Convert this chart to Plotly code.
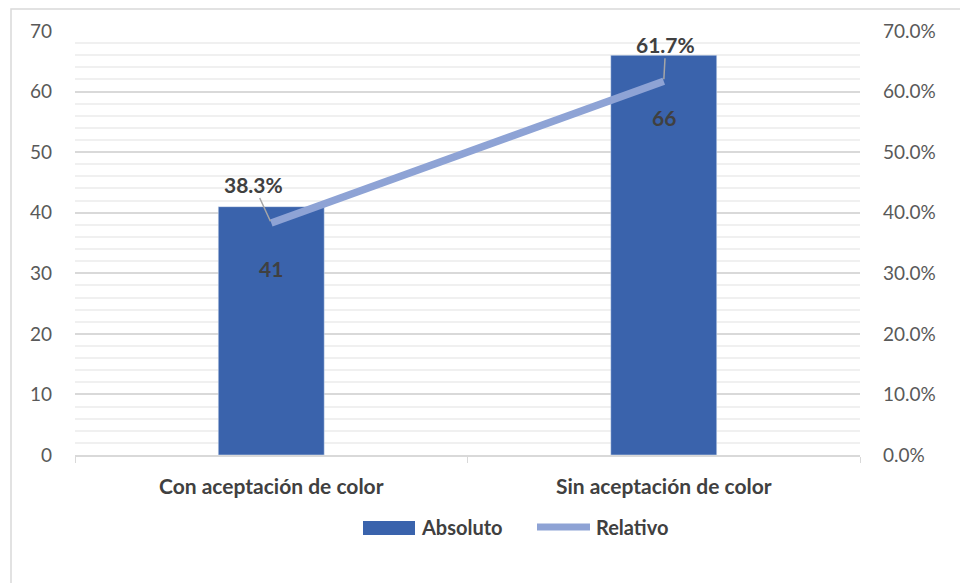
import plotly.graph_objects as go

categories = ["Con aceptación de color", "Sin aceptación de color"]
absoluto = [41, 66]
relativo = [0.383, 0.617]
left_ticks = list(range(0, 71, 10))
right_ticks = [i / 100 for i in range(0, 71, 10)]

BAR = "#3A63AC"
LINE = "#8EA3D5"
FONT = "Lato"
DARK = "#404040"
W, H = 960, 583
L, R, T, B = 75, 100, 31, 128
pw, ph = W - L - R, H - T - B


def px(x):
    return (x - L) / pw


def py(y):
    return (T + ph - y) / ph


fig = go.Figure()
fig.add_trace(go.Bar(x=categories, y=absoluto, name="Absoluto", marker_color=BAR,
                     width=0.27, yaxis="y", showlegend=False))
fig.add_trace(go.Scatter(x=categories, y=relativo, name="Relativo", mode="lines",
                         line=dict(color=LINE, width=7.5), yaxis="y2", showlegend=False))

annots = []
for c, v in zip(categories, absoluto):
    annots.append(dict(x=c, y=v, xref="x", yref="y", text=f"<b>{v}</b>", showarrow=False,
                       yshift=-62, font=dict(family=FONT, size=21, color=DARK)))
offs = [(-18, -39), (2, -37)]
for c, v, (ax, ay) in zip(categories, relativo, offs):
    annots.append(dict(x=c, y=v, xref="x", yref="y2", text=f"<b>{v*100:.1f}%</b>",
                       showarrow=True, arrowhead=0, arrowwidth=1.5, arrowcolor="#A6A6A6",
                       ax=ax, ay=ay, standoff=2,
                       font=dict(family=FONT, size=21, color=DARK)))

# legend (drawn)
annots.append(dict(x=px(419), y=py(527), xref="paper", yref="paper", text="<b>Absoluto</b>",
                   xanchor="left", yanchor="middle", showarrow=False,
                   font=dict(family=FONT, size=20, color=DARK)))
annots.append(dict(x=px(594), y=py(527), xref="paper", yref="paper", text="<b>Relativo</b>",
                   xanchor="left", yanchor="middle", showarrow=False,
                   font=dict(family=FONT, size=20, color=DARK)))

shapes = [
    dict(type="rect", xref="paper", yref="paper", x0=px(11), x1=px(961),
         y0=py(584), y1=py(9), line=dict(color="#D9D9D9", width=1.5),
         fillcolor="rgba(0,0,0,0)", layer="below"),
    dict(type="rect", xref="paper", yref="paper", x0=px(363), x1=px(415),
         y0=py(535), y1=py(521), line=dict(width=0), fillcolor=BAR),
    dict(type="line", xref="paper", yref="paper", x0=px(537), x1=px(590),
         y0=py(527), y1=py(527), line=dict(color=LINE, width=7)),
]

fig.update_layout(
    width=W, height=H, margin=dict(l=L, r=R, t=T, b=B),
    paper_bgcolor="white", plot_bgcolor="white",
    font=dict(family=FONT, size=19, color="#595959"),
    showlegend=False,
    xaxis=dict(type="category", showgrid=False, showline=True, linecolor="#D9D9D9",
               linewidth=1.5, ticks="outside", tickson="boundaries", ticklen=6,
               tickcolor="#D9D9D9", ticklabelstandoff=12,
               tickvals=categories, ticktext=[f"<b>{c}</b>" for c in categories],
               tickfont=dict(family=FONT, size=21, color=DARK)),
    yaxis=dict(range=[0, 70], tickvals=left_ticks, showgrid=True, gridcolor="#D9D9D9",
               gridwidth=1.5, zeroline=False, showline=False, ticks="",
               ticklabelstandoff=22,
               minor=dict(dtick=2, showgrid=True, gridcolor="#F0F0F0", gridwidth=1.5)),
    yaxis2=dict(range=[0, 0.7], tickvals=right_ticks, tickformat=".1%", overlaying="y",
                side="right", showgrid=False, zeroline=False, showline=False, ticks="",
                ticklabelstandoff=22),
    annotations=annots, shapes=shapes,
)
fig.write_html("out.html")
